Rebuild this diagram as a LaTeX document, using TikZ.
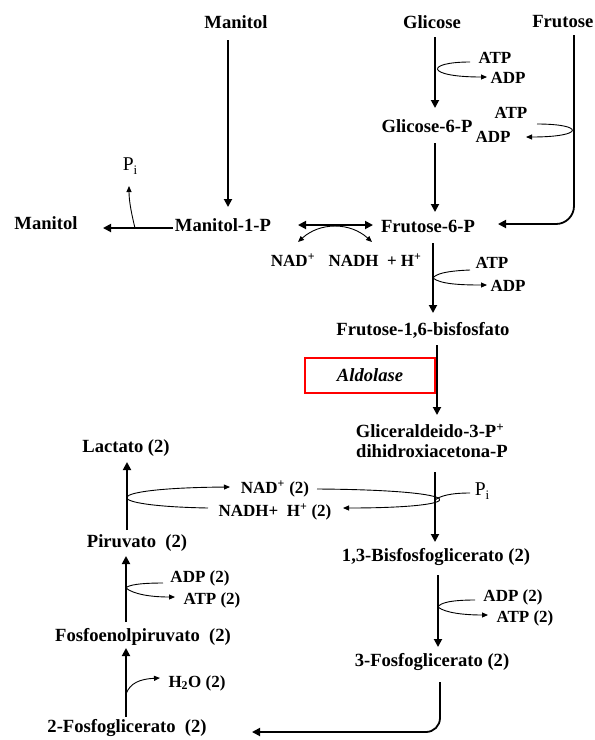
\documentclass[tikz,border=0pt]{standalone}
\usepackage{fontspec}
\setmainfont{Liberation Serif}
\usetikzlibrary{arrows.meta}
\begin{document}
\begin{tikzpicture}[x=1pt,y=-1pt,
  lab/.style={font=\bfseries\fontsize{18.6}{20}\selectfont,inner sep=1pt},
  sm/.style={font=\bfseries\fontsize{17}{18}\selectfont,inner sep=1pt},
  reg/.style={font=\fontsize{19.5}{20}\selectfont,inner sep=1pt},
  enz/.style={draw=red,line width=1.5pt,minimum width=130pt,minimum height=35pt,font=\bfseries\itshape\fontsize{18.6}{20}\selectfont},
  main/.style={line width=1.8pt,-{Triangle[length=8pt,width=8pt]}},
  mainrev/.style={line width=1.8pt,{Triangle[length=8pt,width=8pt]}-{Triangle[length=8pt,width=8pt]}},
  side/.style={line width=0.9pt,-{Triangle[length=6pt,width=5pt]}},
  sideboth/.style={line width=0.9pt,{Triangle[length=6pt,width=5pt]}-{Triangle[length=6pt,width=5pt]}},
  plain/.style={line width=0.9pt}]
\useasboundingbox (0,0) rectangle (595,740);
\newcommand{\subi}{{\fontsize{13}{13}\selectfont\raisebox{-4.5pt}{i}}}
% labels
\node[lab] (manitolT) at (236,22) {Manitol};
\node[lab] (glicose) at (432,22) {Glicose};
\node[lab,anchor=east] (frutoseT) at (594.5,22) {Frutose};
\node[lab] (g6p) at (427,126) {Glicose-6-P};
\node[sm] (atp1) at (495,58) {ATP};
\node[sm] (adp1) at (508,78) {ADP};
\node[sm] (atp2) at (511,113) {ATP};
\node[sm] (adp2) at (493,137) {ADP};
\node[lab] (m1p) at (223,225) {Manitol-1-P};
\node[lab] (manitolL) at (46,223) {Manitol};
\node[reg] (pi1) at (130,166) {P\subi};
\node[lab] (f6p) at (428,226) {Frutose-6-P};
\node[sm] (nad) at (293,260) {NAD\textsuperscript{+}};
\node[sm] (nadh) at (375,260) {NADH~ + H\textsuperscript{+}};
\node[sm] (atp3) at (492,263) {ATP};
\node[sm] (adp3) at (508,286) {ADP};
\node[lab] (f16) at (423,330) {Frutose-1,6-bisfosfato};
\node[enz] (aldo) at (370,375.5) {Aldolase};
\node[lab] (gap1) at (430,431) {Gliceraldeido-3-P\textsuperscript{+}};
\node[lab] (gap2) at (432,451) {dihidroxiacetona-P};
\node[reg] (pi2) at (482,491) {P\subi};
\node[sm] (nad2) at (275,489) {NAD\textsuperscript{+} (2)};
\node[sm] (nadh2) at (275,512) {NADH+~ H\textsuperscript{+} (2)};
\node[lab] (bpg) at (436,557) {1,3-Bisfosfoglicerato (2)};
\node[sm] (adp4) at (513,597) {ADP (2)};
\node[sm] (atp4) at (525,618) {ATP (2)};
\node[lab] (pg3) at (432,662) {3-Fosfoglicerato (2)};
\node[lab] (lact) at (126,448) {Lactato (2)};
\node[lab] (piruv) at (137,543) {Piruvato~ (2)};
\node[sm] (adp5) at (200,578) {ADP (2)};
\node[sm] (atp5) at (212,600) {ATP (2)};
\node[lab] (pep) at (143,637) {Fosfoenolpiruvato~ (2)};
\node[sm] (h2o) at (197,683) {H\textsubscript{2}O (2)};
\node[lab] (pg2) at (127,728) {2-Fosfoglicerato~ (2)};
% connector end points
\coordinate (a1) at (435,37);  \coordinate (b1) at (435,108);
\coordinate (a2) at (435,143); \coordinate (b2) at (435,212);
\coordinate (a3) at (228,40);  \coordinate (b3) at (228,207);
\coordinate (a4) at (433,243); \coordinate (b4) at (433,313);
\coordinate (a5) at (437,345); \coordinate (b5) at (437,415);
\coordinate (a6) at (435,472); \coordinate (b6) at (435,542);
\coordinate (a7) at (438,575); \coordinate (b7) at (438,647);
\coordinate (a8) at (440,682); \coordinate (b8) at (252,732);
\coordinate (a9) at (574,35);  \coordinate (b9) at (498,224);
\coordinate (a10) at (173,228); \coordinate (b10) at (103,228);
\coordinate (a11) at (298,225); \coordinate (b11) at (373,225);
\coordinate (a12) at (127,530); \coordinate (b12) at (127,462);
\coordinate (a13) at (126,622); \coordinate (b13) at (126,556);
\coordinate (a14) at (126,717); \coordinate (b14) at (126,648);
% main arrows
\draw[main] (a1) -- (b1);
\draw[main] (a2) -- (b2);
\draw[main] (a3) -- (b3);
\draw[main] (a4) -- (b4);
\draw[main] (a5) -- (b5);
\draw[main] (a6) -- (b6);
\draw[main] (a7) -- (b7);
\draw[main,rounded corners=14pt] (a8) |- (b8);
\draw[main,rounded corners=18pt] (a9) |- (b9);
\draw[main] (a10) -- (b10);
\draw[mainrev] (a11) -- (b11);
\draw[main] (a12) -- (b12);
\draw[main] (a13) -- (b13);
\draw[main] (a14) -- (b14);
% side reactions
\draw[side] (470,62) .. controls (425,62) and (425,77) .. (487,77);
\draw[side] (537,124) .. controls (585,124) and (585,137) .. (526,137);
\draw[side] (470,270) .. controls (445,271) and (436,274) .. (433,278) .. controls (440,284) and (460,285) .. (487,285);
\draw[side] (135,228) .. controls (131,212) and (129,200) .. (129,186);
\draw[sideboth] (298,242) .. controls (320,222) and (350,222) .. (372,242);
\draw[plain] (470,493) .. controls (450,493) and (440,496) .. (435,500);
\draw[side] (317,489) .. controls (475,490) and (475,508) .. (343,508);
\draw[side] (208,508) .. controls (97,506) and (97,488) .. (230,487);
\draw[side] (475,600) .. controls (450,600) and (440,603) .. (438,607) .. controls (445,613) and (465,615) .. (488,615);
\draw[side] (163,583) .. controls (140,583) and (128,585) .. (126,588) .. controls (133,594) and (150,597) .. (175,597);
\draw[side] (126,694) .. controls (130,683) and (140,679) .. (160,678);
\end{tikzpicture}
\end{document}
